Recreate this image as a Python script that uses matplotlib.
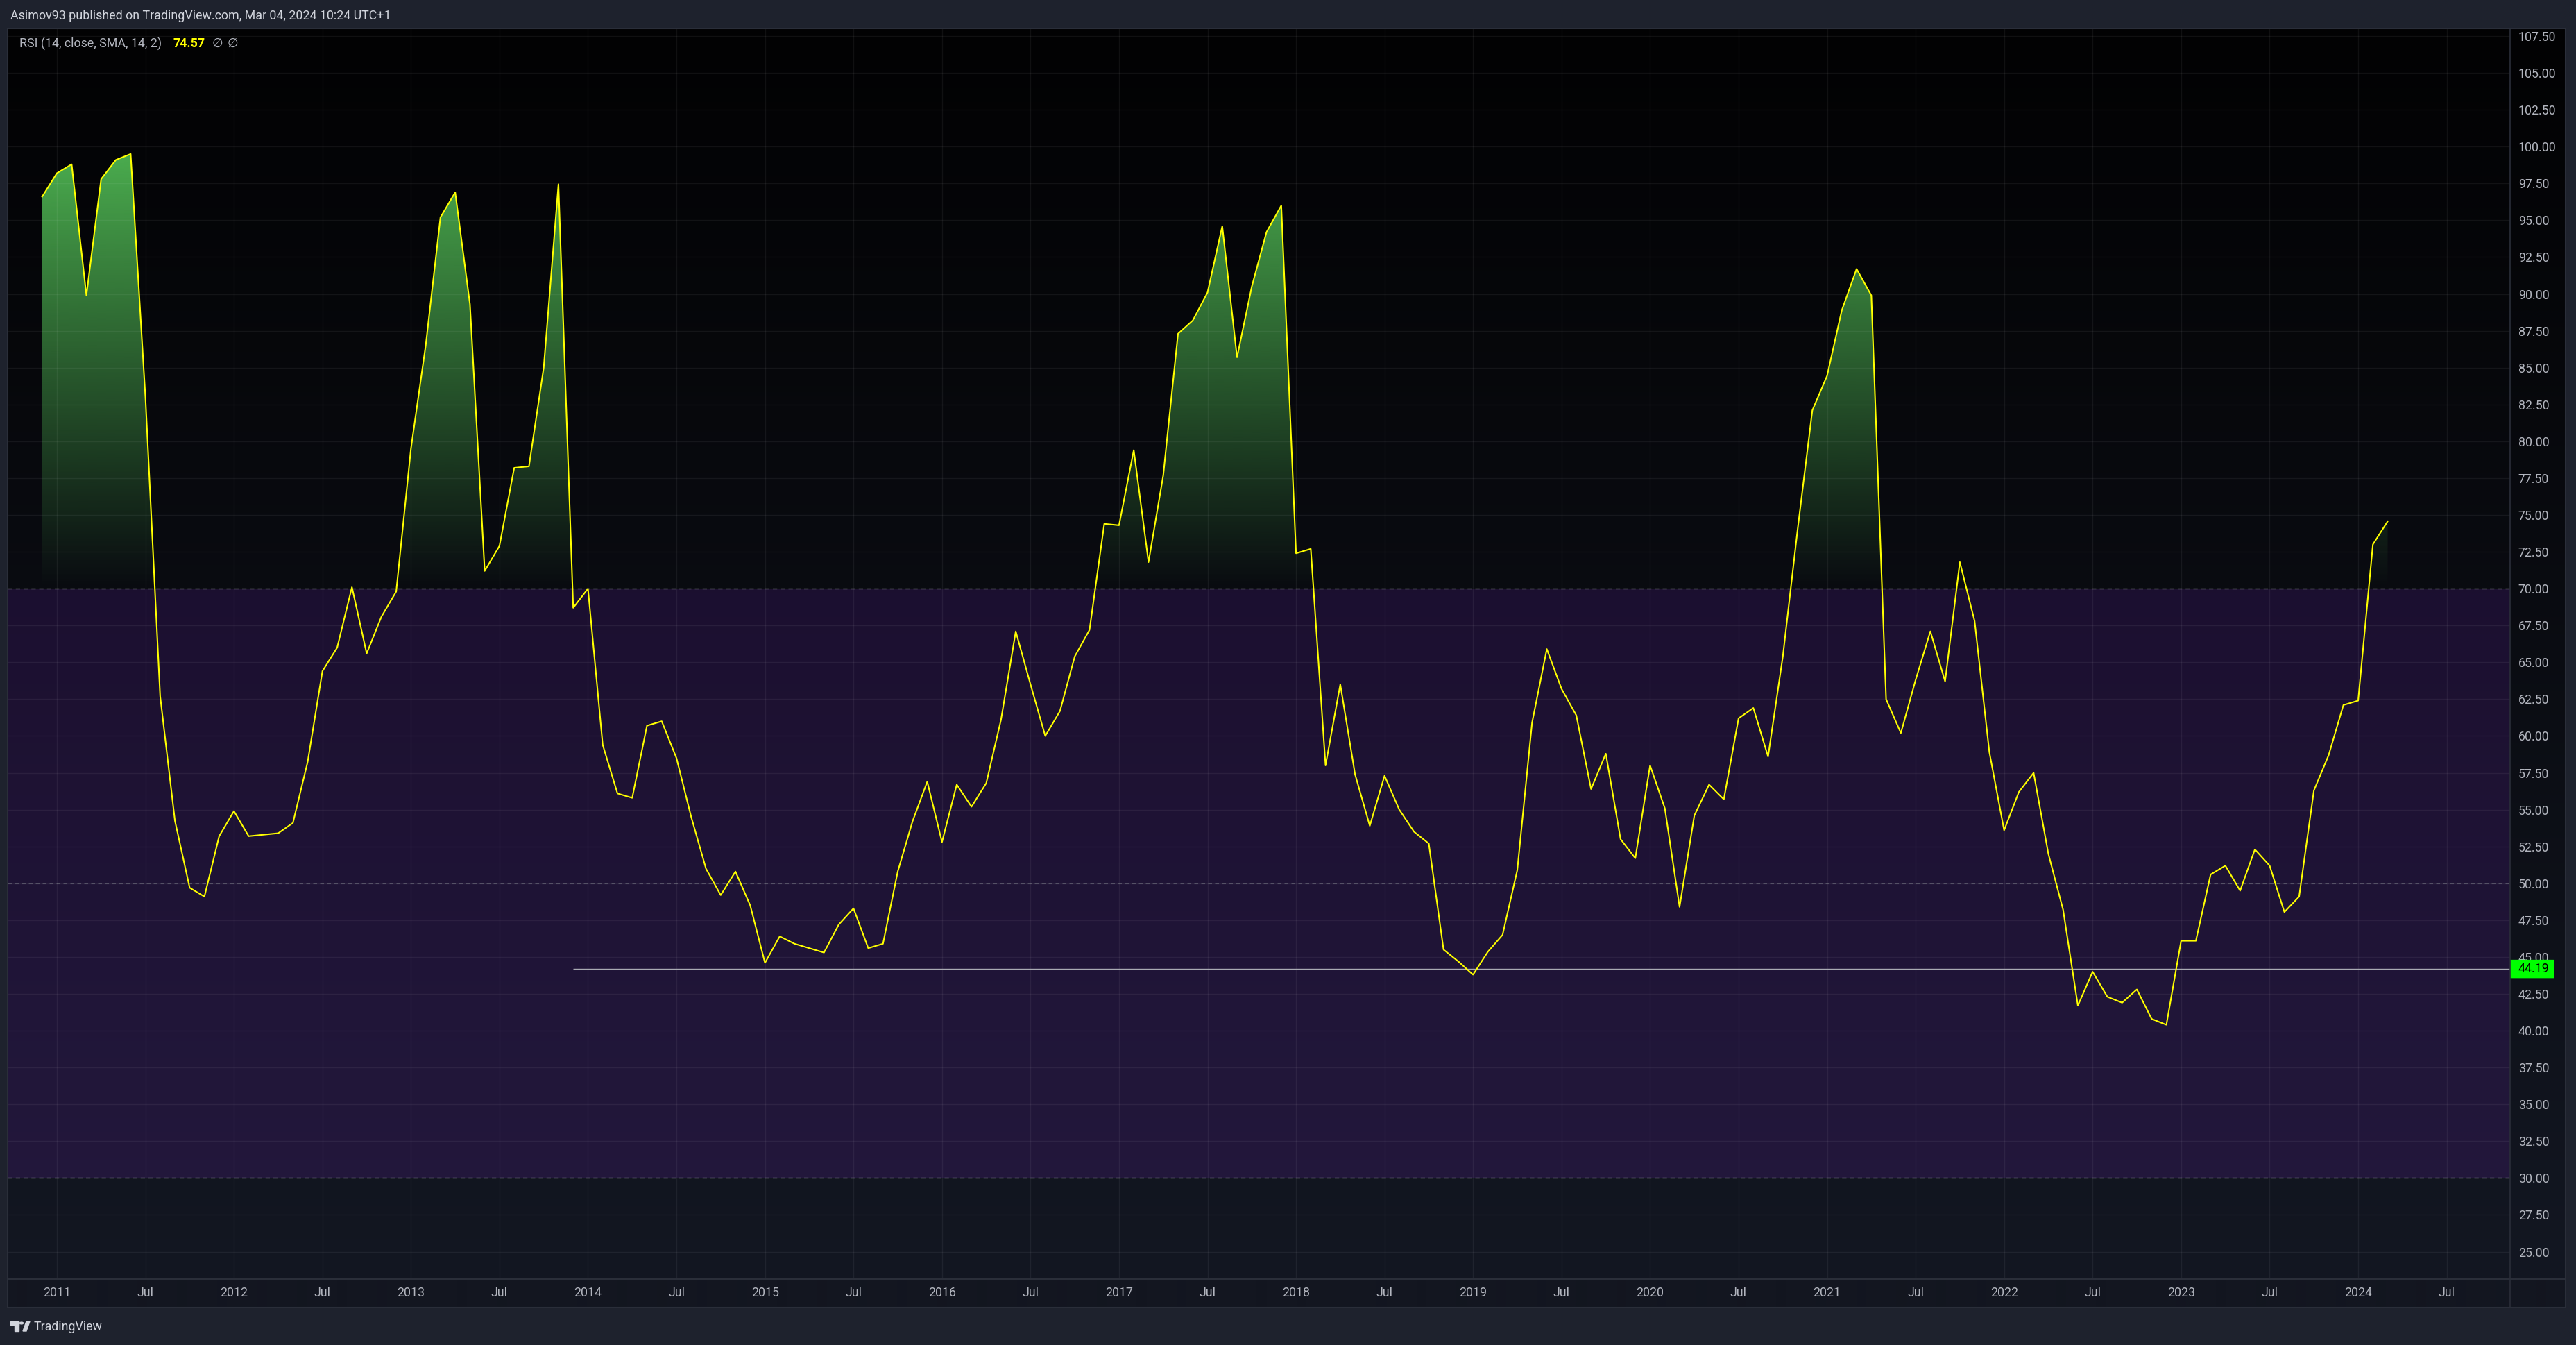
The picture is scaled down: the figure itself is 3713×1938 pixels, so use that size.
import numpy as np
import pandas as pd
import matplotlib
matplotlib.use("Agg")
import matplotlib.pyplot as plt
from matplotlib.patches import Rectangle, Polygon, Circle, FancyBboxPatch
from matplotlib.lines import Line2D
from matplotlib.path import Path
from matplotlib.transforms import blended_transform_factory

# monthly RSI values, Dec 2010 .. Mar 2024
rsi_values = [
    96.6,
    98.2, 98.8, 89.9, 97.8, 99.1, 99.5, 83.0, 62.7, 54.25, 49.7, 49.1, 53.2,   # 2011
    54.9, 53.2, 53.3, 53.4, 54.1, 58.25, 64.4, 66.0, 70.1, 65.6, 68.1, 69.8,   # 2012
    79.5, 86.5, 95.2, 96.9, 89.3, 71.2, 72.9, 78.2, 78.3, 85.0, 97.45, 68.7,   # 2013
    70.0, 59.4, 56.1, 55.8, 60.7, 61.0, 58.5, 54.5, 51.0, 49.2, 50.8, 48.5,    # 2014
    44.6, 46.4, 45.9, 45.6, 45.3, 47.2, 48.3, 45.6, 45.9, 50.8, 54.2, 56.9,    # 2015
    52.8, 56.7, 55.2, 56.8, 61.1, 67.1, 63.5, 60.0, 61.7, 65.4, 67.2, 74.4,    # 2016
    74.3, 79.4, 71.8, 77.7, 87.3, 88.2, 90.1, 94.6, 85.7, 90.5, 94.2, 96.0,    # 2017
    72.4, 72.7, 58.0, 63.5, 57.4, 53.9, 57.3, 55.0, 53.5, 52.7, 45.5, 44.7,    # 2018
    43.8, 45.35, 46.5, 50.9, 60.9, 65.9, 63.2, 61.4, 56.4, 58.8, 53.0, 51.7,   # 2019
    58.0, 55.1, 48.4, 54.6, 56.7, 55.7, 61.2, 61.9, 58.6, 65.4, 74.0, 82.1,    # 2020
    84.45, 88.9, 91.7, 89.9, 62.5, 60.2, 63.8, 67.1, 63.7, 71.8, 67.8, 58.9,   # 2021
    53.6, 56.2, 57.5, 52.0, 48.2, 41.7, 44.0, 42.3, 41.9, 42.8, 40.8, 40.4,    # 2022
    46.1, 46.1, 50.6, 51.2, 49.5, 52.3, 51.2, 48.05, 49.1, 56.3, 58.7, 62.1,   # 2023
    62.4, 73.0, 74.57,                                                         # 2024
]
first_month = "2010-12-01"
months = pd.date_range(first_month, periods=len(rsi_values), freq="MS")
tick_dates = pd.date_range("2011-01-01", "2024-07-01", freq="6MS")
tick_labels = [str(d.year) if d.month == 1 else "Jul" for d in tick_dates]
y_ticks = np.arange(25.0, 108.0, 2.5)
support_level = 44.19
support_start = "2013-12-01"
overbought, middle, oversold = 70, 50, 30
last_value = 74.57

W, H = 3713, 1938


def fx(px):
    return px / W


def fy(py):
    return 1 - py / H


def month_idx(d):
    d = pd.Timestamp(d)
    m0 = pd.Timestamp(first_month)
    return (d.year - m0.year) * 12 + d.month - m0.month


plt.rcParams['font.family'] = ['Roboto', 'DejaVu Sans']

fig = plt.figure(figsize=(W / 100, H / 100), dpi=100, facecolor='#1e222d')

# pane background gradient (plot + price axis + time axis strip)
bg = fig.add_axes([fx(11), fy(1884), fx(3698 - 11), (1884 - 41) / H], zorder=-5)
rows = np.arange(41, 1884)
t = np.clip((rows - 41) / (1843 - 41), 0, 1)
top = np.array([2, 2, 3])
bot = np.array([19, 23, 34])
cols = top + (bot - top) * t[:, None]
cols[rows >= 1843] = [19, 22, 32]
bg.imshow(cols[:, None, :] / 255, aspect='auto', extent=[0, 1, 0, 1], interpolation='bilinear')
bg.axis('off')

ax = fig.add_axes([fx(11), fy(1843), fx(3618 - 11), (1843 - 41) / H])
ax.set_facecolor('none')

x = np.arange(len(rsi_values))
rsi = np.array(rsi_values)
xmin, xmax = -2.34, 167.3

ax.axhspan(oversold, overbought, color=(103 / 255, 35 / 255, 174 / 255), alpha=0.2, lw=0, zorder=0.5)
ax.axhline(overbought, color='#b2b5be', lw=0.9, ls=(0, (5, 4)), zorder=1)
ax.axhline(oversold, color='#b2b5be', lw=0.9, ls=(0, (5, 4)), zorder=1)
ax.axhline(middle, color='#787b86', lw=0.8, ls=(0, (5, 4)), alpha=0.5, zorder=1)

# overbought gradient fill
fb = ax.fill_between(x, rsi, overbought, where=rsi > overbought, interpolate=True,
                     facecolor='none', lw=0)
clip = Path.make_compound_path(*fb.get_paths())
grad = np.zeros((256, 1, 4))
grad[..., 0] = 76 / 255
grad[..., 1] = 175 / 255
grad[..., 2] = 80 / 255
grad[:, 0, 3] = np.linspace(0, 1, 256)
im = ax.imshow(grad, extent=[x[0], x[-1], overbought, 100], origin='lower',
               aspect='auto', zorder=1.5, interpolation='bilinear')
im.set_clip_path(clip, ax.transData)

ax.plot(x, rsi, color='#ffff00', lw=1.5, zorder=3)

ax.hlines(support_level, month_idx(support_start), xmax, color='#a9abb3', lw=1.0, zorder=2.8)

ax.set_xlim(xmin, xmax)
ax.set_ylim(23.14, 108.02)

ax.set_xticks([month_idx(d) for d in tick_dates])
ax.set_xticklabels(tick_labels)
ax.yaxis.tick_right()
ax.set_yticks(y_ticks)
ax.set_yticklabels([f"{v:.2f}" for v in y_ticks])
ax.tick_params(axis='x', length=0, pad=8, labelsize=12.8, labelcolor='#b2b5be')
ax.tick_params(axis='y', length=0, pad=8.5, labelsize=12.8, labelcolor='#b2b5be')
ax.grid(True, color='white', alpha=0.06, lw=1.0)
for s in ax.spines.values():
    s.set_visible(False)

# current level label on the price axis
tr = blended_transform_factory(ax.transAxes, ax.transData)
box_w = 64 / (3618 - 11)
box_h = 26.5 / 21.23
ax.add_patch(FancyBboxPatch((1.0, support_level - box_h / 2), box_w, box_h,
                            boxstyle='round,pad=0,rounding_size=0.002', transform=tr,
                            facecolor='#00ff00', edgecolor='none', clip_on=False, zorder=6))
ax.text(1.0 + 11 / (3618 - 11), support_level, f"{support_level:.2f}", transform=tr,
        ha='left', va='center', fontsize=12.8, color='black', clip_on=False, zorder=7)

# frame / separators
line_c = '#2a2e39'
fig.add_artist(Line2D([fx(3618), fx(3618)], [fy(41), fy(1884)], color=line_c, lw=1.2))
fig.add_artist(Line2D([fx(11), fx(3698)], [fy(1843), fy(1843)], color=line_c, lw=1.5))
fig.add_artist(Rectangle((fx(11), fy(1884)), fx(3698 - 11), (1884 - 41) / H,
                         fill=False, edgecolor=line_c, lw=1.5))

# header
fig.text(fx(15), fy(23), "Asimov93 published on TradingView.com, Mar 04, 2024 10:24 UTC+1",
         fontsize=12.9, color='#d1d4dc', ha='left', va='center')
fig.text(fx(28), fy(63), "RSI (14, close, SMA, 14, 2)", fontsize=12.9, color='#b2b5be',
         ha='left', va='center')
fig.text(fx(249), fy(63), f"{last_value:.2f}", fontsize=12.9, color='#ffff00',
         fontweight='bold', ha='left', va='center')
fig.text(fx(306), fy(63), "\u2205", fontsize=12.9, color='#b2b5be', ha='left', va='center')
fig.text(fx(328), fy(63), "\u2205", fontsize=12.9, color='#b2b5be', ha='left', va='center')

# TradingView logo
logo_c = '#d1d4dc'
fig.add_artist(Rectangle((fx(15), fy(1909)), fx(12), 5 / H, color=logo_c))
fig.add_artist(Rectangle((fx(21), fy(1918)), fx(6), 14 / H, color=logo_c))
fig.add_artist(Polygon([(fx(33), fy(1918)), (fx(38), fy(1918)), (fx(43), fy(1904)), (fx(38), fy(1904))],
                       closed=True, color=logo_c))
fig.add_artist(Circle((fx(31), fy(1906.5)), 2.6 / W, color=logo_c))
fig.text(fx(49), fy(1912), "TradingView", fontsize=12.8, color=logo_c, ha='left', va='center')

fig.savefig("out.png", dpi=100, facecolor=fig.get_facecolor())
